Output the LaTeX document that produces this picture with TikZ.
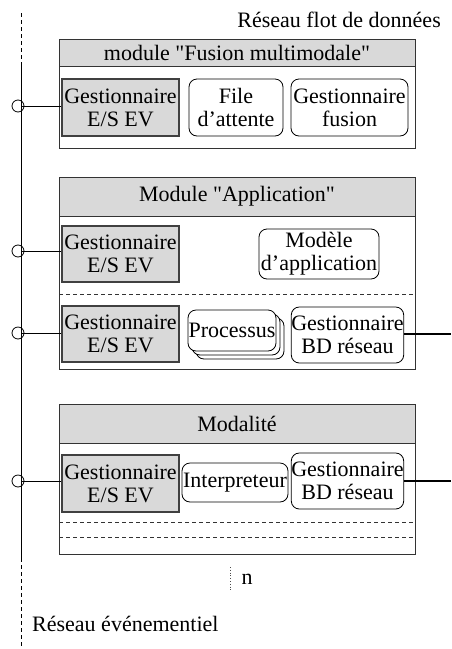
\documentclass[tikz,border=0pt]{standalone}
\usepackage{fontspec}
\setmainfont{Liberation Serif}[Ligatures=TeXOff]
\begin{document}
\begin{tikzpicture}[x=1pt,y=-1pt,
  every node/.style={font=\fontsize{22}{23}\selectfont, inner sep=0pt, align=center},
  outerbox/.style={draw=black!80, line width=0.8pt},
  headbox/.style={draw=black!80, fill=black!15, line width=0.8pt},
  iobox/.style={draw=black!75, fill=black!15, line width=1.3pt, minimum width=117, minimum height=57},
  roundbox/.style={draw=black, fill=white, rounded corners=8pt, line width=0.8pt},
  port/.style={circle, draw=black, line width=0.8pt, minimum size=12, inner sep=0pt},
  wire/.style={line width=0.9pt},
  thickwire/.style={line width=2pt},
  sep/.style={dashed, dash pattern=on 4pt off 3pt, line width=0.8pt, draw=black!80},
  bus/.style={line width=1pt}]
\useasboundingbox (0,0) rectangle (451,649);

% event bus on the left
\coordinate (busTop) at (21,13);
\coordinate (busA) at (21,65);
\coordinate (busB) at (21,558);
\coordinate (busEnd) at (21,649);
\draw[bus, dash pattern=on 4pt off 3pt] (busTop) -- (busA);
\draw[bus] (busA) -- (busB);
\draw[bus, dash pattern=on 4pt off 3pt] (busB) -- (busEnd);

\node[anchor=base east] (titleData) at (441,27) {Réseau flot de données};
\node[anchor=base west] (titleEvent) at (32,631) {Réseau événementiel};

% ---- module "Fusion multimodale"
\node[outerbox, minimum width=356, minimum height=109] (m1) at (237,93.5) {};
\node[headbox, minimum width=356, minimum height=27] (m1h) at (237,52.5) {module "Fusion multimodale"};
\node[iobox] (m1g) at (120.5,107.5) {Gestionnaire\\E/S EV};
\node[roundbox, minimum width=94, minimum height=57] (m1f) at (236,107.5) {File\\d’attente};
\node[roundbox, minimum width=117, minimum height=57] (m1u) at (349.5,107.5) {Gestionnaire\\fusion};
\node[port] (p1) at (18,106) {};
\coordinate (b1) at (21,106);
\draw[wire] (b1) -- (b1 -| m1g.west);

% ---- module "Application"
\node[outerbox, minimum width=356, minimum height=192] (m2) at (237,273) {};
\node[headbox, minimum width=356, minimum height=39] (m2h) at (237,196.5) {Module "Application"};
\node[iobox, minimum height=56] (m2g1) at (120.5,254) {Gestionnaire\\E/S EV};
\node[roundbox, minimum width=120, minimum height=50] (m2m) at (319,254) {Modèle\\d’application};
\coordinate (m2sl) at (59,294);
\coordinate (m2sr) at (415,294);
\draw[sep] (m2sl) -- (m2sr);
\node[iobox, minimum height=56] (m2g2) at (120.5,334) {Gestionnaire\\E/S EV};
\node[roundbox, minimum width=88, minimum height=41] (m2p3) at (240,338.5) {};
\node[roundbox, minimum width=88, minimum height=41] (m2p2) at (236,334.5) {};
\node[roundbox, minimum width=88, minimum height=41] (m2p) at (232,330.5) {Processus};
\node[roundbox, minimum width=111, minimum height=56] (m2d) at (347.5,335) {Gestionnaire\\BD réseau};
\node[port] (p2) at (18,251) {};
\coordinate (b2) at (21,251);
\draw[wire] (b2) -- (b2 -| m2g1.west);
\node[port] (p3) at (18,333) {};
\coordinate (b3) at (21,333);
\draw[wire] (b3) -- (b3 -| m2g2.west);
\coordinate (o2) at (451,334);
\draw[thickwire] (m2d.east |- o2) -- (o2);

% ---- module "Modalité"
\node[outerbox, minimum width=356, minimum height=150] (m3) at (237,479) {};
\node[headbox, minimum width=356, minimum height=39] (m3h) at (237,423.5) {Modalité};
\node[iobox] (m3g) at (120.5,483.5) {Gestionnaire\\E/S EV};
\node[roundbox, minimum width=106, minimum height=39] (m3i) at (235,482.5) {Interpreteur};
\node[roundbox, minimum width=111, minimum height=56] (m3d) at (347.5,481) {Gestionnaire\\BD réseau};
\coordinate (m3s1l) at (59,522);
\coordinate (m3s1r) at (415,522);
\coordinate (m3s2l) at (59,537);
\coordinate (m3s2r) at (415,537);
\draw[sep] (m3s1l) -- (m3s1r);
\draw[sep] (m3s2l) -- (m3s2r);
\node[port] (p4) at (18,481) {};
\coordinate (b4) at (21,481);
\draw[wire] (b4) -- (b4 -| m3g.west);
\coordinate (o3) at (451,481);
\draw[thickwire] (m3d.east |- o3) -- (o3);

% ---- repetition marker
\coordinate (dotTop) at (230,567);
\coordinate (dotBot) at (230,591);
\draw[dotted, line width=0.8pt, draw=black!70] (dotTop) -- (dotBot);
\node[anchor=base] (nlabel) at (247,584) {n};
\end{tikzpicture}
\end{document}
